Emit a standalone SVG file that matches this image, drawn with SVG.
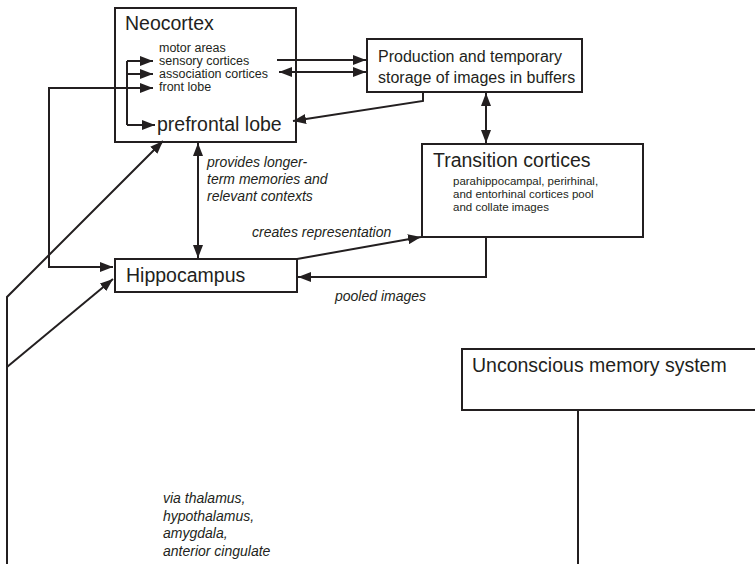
<svg xmlns="http://www.w3.org/2000/svg" width="755" height="564" viewBox="0 0 755 564">
  <style>
    text { font-family: "Liberation Sans", Arial, Helvetica, sans-serif; fill: #231f20; }
    .box { fill: #ffffff; stroke: #231f20; stroke-width: 2; }
    .title { font-size: 19.5px; }
    .item { font-size: 12.5px; }
    .sub { font-size: 11.5px; }
    .body { font-size: 16px; }
    .note { font-size: 14px; font-style: italic; }
    .wire { fill: none; stroke: #231f20; stroke-width: 2; }
  </style>
  <defs>
    <marker id="head" viewBox="0 0 13 10" refX="13" refY="5" markerWidth="13" markerHeight="10" markerUnits="userSpaceOnUse" orient="auto-start-reverse">
      <path d="M0,0 L13,5 L0,10 z" fill="#231f20"/>
    </marker>
  </defs>

  <!-- Nodes -->
  <g id="neocortex">
    <rect class="box" x="115" y="8" width="181" height="134"/>
    <text class="title" x="125" y="30">Neocortex</text>
    <text class="item" x="159" y="52">motor areas</text>
    <text class="item" x="159" y="65">sensory cortices</text>
    <text class="item" x="159" y="78">association cortices</text>
    <text class="item" x="159" y="91">front lobe</text>
    <text class="title" x="157" y="131">prefrontal lobe</text>
  </g>

  <g id="buffers">
    <rect class="box" x="367" y="39" width="215" height="53"/>
    <text class="body" x="378" y="62">Production and temporary</text>
    <text class="body" x="378" y="83">storage of images in buffers</text>
  </g>

  <g id="transition">
    <rect class="box" x="422" y="144" width="221" height="93"/>
    <text class="title" x="433" y="167">Transition cortices</text>
    <text class="sub" x="453" y="185">parahippocampal, perirhinal,</text>
    <text class="sub" x="453" y="198">and entorhinal cortices pool</text>
    <text class="sub" x="453" y="211">and collate images</text>
  </g>

  <g id="hippocampus">
    <rect class="box" x="115" y="259" width="182" height="33"/>
    <text class="title" x="126" y="282">Hippocampus</text>
  </g>

  <g id="unconscious">
    <rect class="box" x="462" y="349" width="300" height="61"/>
    <text class="title" x="472" y="372">Unconscious memory system</text>
  </g>

  <!-- Connectors -->
  <g id="connectors">
    <path class="wire" d="M127,61 V125"/>
    <path class="wire" d="M127,61 H153" marker-end="url(#head)"/>
    <path class="wire" d="M127,74 H153" marker-end="url(#head)"/>
    <path class="wire" d="M127,125 H155" marker-end="url(#head)"/>
    <path class="wire" d="M153,88 H49 V267 H113" marker-start="url(#head)" marker-end="url(#head)"/>
    <path class="wire" d="M277,60 H366" marker-end="url(#head)"/>
    <path class="wire" d="M279,72 H366" marker-start="url(#head)" marker-end="url(#head)"/>
    <path class="wire" d="M423,92 V101 L293,121" marker-end="url(#head)"/>
    <path class="wire" d="M486,93 V143" marker-start="url(#head)" marker-end="url(#head)"/>
    <path class="wire" d="M198,143 V258" marker-start="url(#head)" marker-end="url(#head)"/>
    <path class="wire" d="M297,259 L421,237" marker-end="url(#head)"/>
    <path class="wire" d="M486,237 V277 H298" marker-end="url(#head)"/>
    <path class="wire" d="M7,564 V297 L163,141" marker-end="url(#head)"/>
    <path class="wire" d="M7,367 L113,279" marker-end="url(#head)"/>
    <path class="wire" d="M578,410 V564"/>
  </g>

  <!-- Edge labels -->
  <g id="labels">
    <text class="note" x="207" y="167">provides longer-</text>
    <text class="note" x="207" y="184">term memories and</text>
    <text class="note" x="207" y="201">relevant contexts</text>
    <text class="note" x="252" y="237">creates representation</text>
    <text class="note" x="335" y="301">pooled images</text>
    <text class="note" x="163" y="503">via thalamus,</text>
    <text class="note" x="163" y="521">hypothalamus,</text>
    <text class="note" x="163" y="538">amygdala,</text>
    <text class="note" x="163" y="556">anterior cingulate</text>
  </g>
</svg>
